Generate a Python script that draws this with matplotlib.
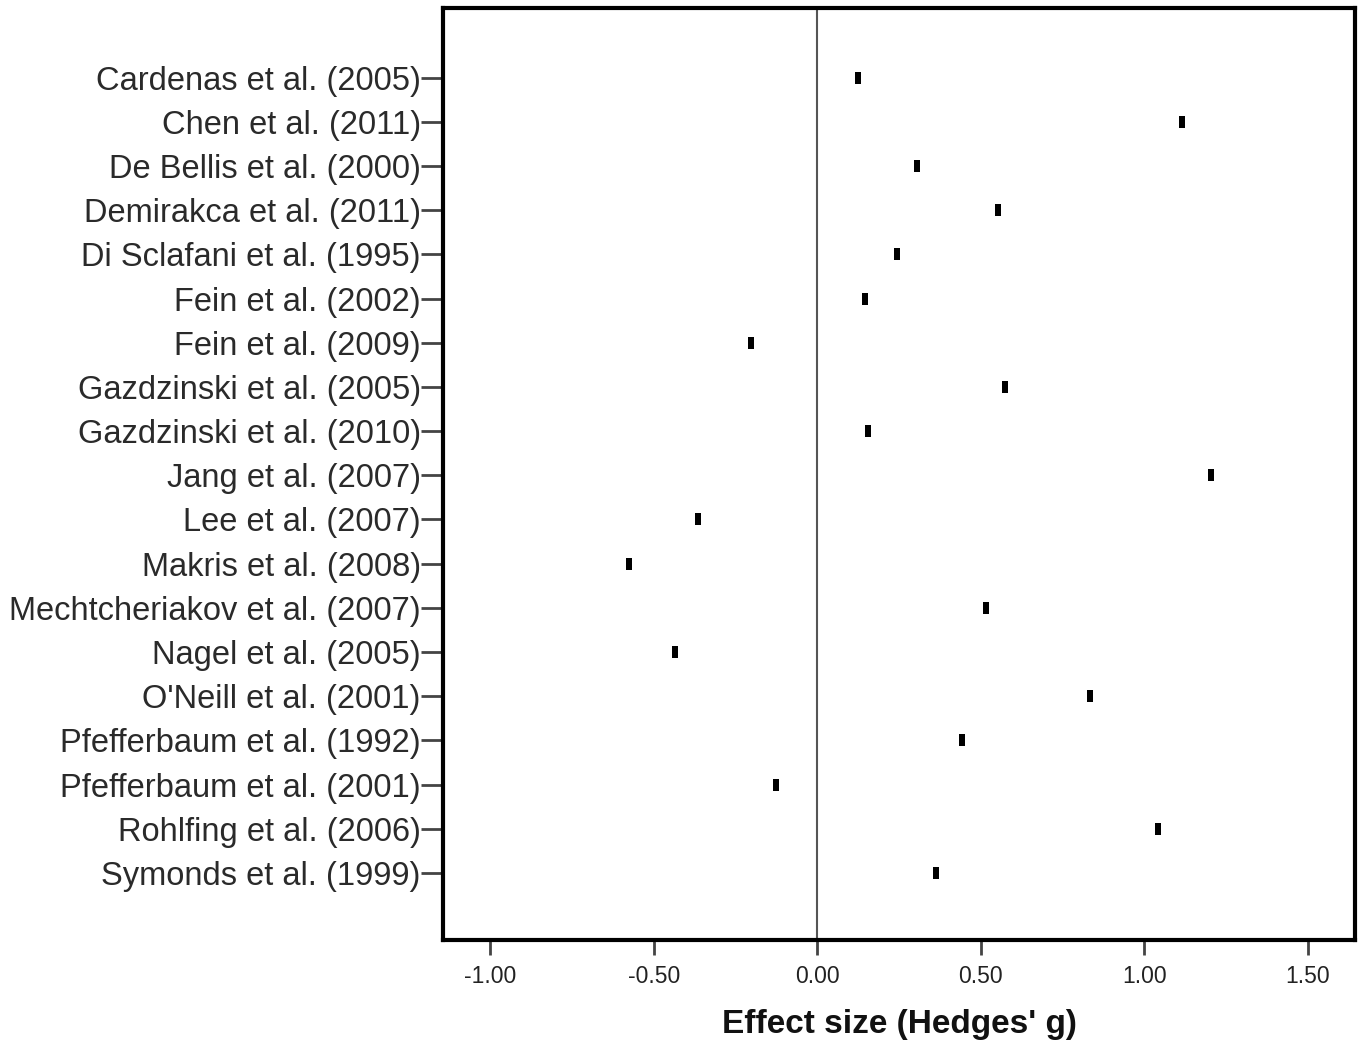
import matplotlib
matplotlib.use("Agg")
import matplotlib.pyplot as plt

studies = ["Cardenas et al. (2005)", "Chen et al. (2011)", "De Bellis et al. (2000)",
           "Demirakca et al. (2011)", "Di Sclafani et al. (1995)", "Fein et al. (2002)",
           "Fein et al. (2009)", "Gazdzinski et al. (2005)", "Gazdzinski et al. (2010)",
           "Jang et al. (2007)", "Lee et al. (2007)", "Makris et al. (2008)",
           "Mechtcheriakov et al. (2007)", "Nagel et al. (2005)", "O'Neill et al. (2001)",
           "Pfefferbaum et al. (1992)", "Pfefferbaum et al. (2001)", "Rohlfing et al. (2006)",
           "Symonds et al. (1999)"]
hedges_g = [0.125, 1.116, 0.306, 0.553, 0.245, 0.147, -0.202, 0.575, 0.156, 1.205,
            -0.364, -0.575, 0.517, -0.434, 0.835, 0.443, -0.125, 1.043, 0.364]
xticks = [-1.0, -0.5, 0.0, 0.5, 1.0, 1.5]
xticklabels = ["-1.00", "-0.50", "0.00", "0.50", "1.00", "1.50"]

plt.rcParams['font.family'] = ['Liberation Sans', 'DejaVu Sans']

fig = plt.figure(figsize=(13.59, 10.44), dpi=100)
ax = fig.add_axes([443/1359, 1-940/1044, (1355-443)/1359, (940-8)/1044])

ypos = list(range(1, len(studies) + 1))
rect = [(-0.5, -1), (0.5, -1), (0.5, 1), (-0.5, 1), (-0.5, -1)]
ax.plot(hedges_g, ypos, linestyle='none', marker=rect, markersize=8,
        color='black', markeredgewidth=0)
ax.axvline(0, color='#555555', linewidth=1.5, zorder=0)

ax.set_xlim(-1.144, 1.644)
ax.set_ylim(20.52, -0.58)
ax.set_yticks(ypos)
ax.set_yticklabels(studies, fontsize=23.5, color='#2a2a2a')
ax.set_xticks(xticks)
ax.set_xticklabels(xticklabels, fontsize=16.5, color='#222222')
ax.tick_params(axis='y', length=16, width=2, color='#444444', pad=0)
ax.tick_params(axis='x', length=11, width=2, color='#444444', pad=7)
for s in ax.spines.values():
    s.set_linewidth(3)
    s.set_color('black')
ax.set_xlabel("Effect size (Hedges' g)", fontsize=24, fontweight='bold',
              color='#111111', labelpad=15)

fig.savefig("out.png", dpi=100)
